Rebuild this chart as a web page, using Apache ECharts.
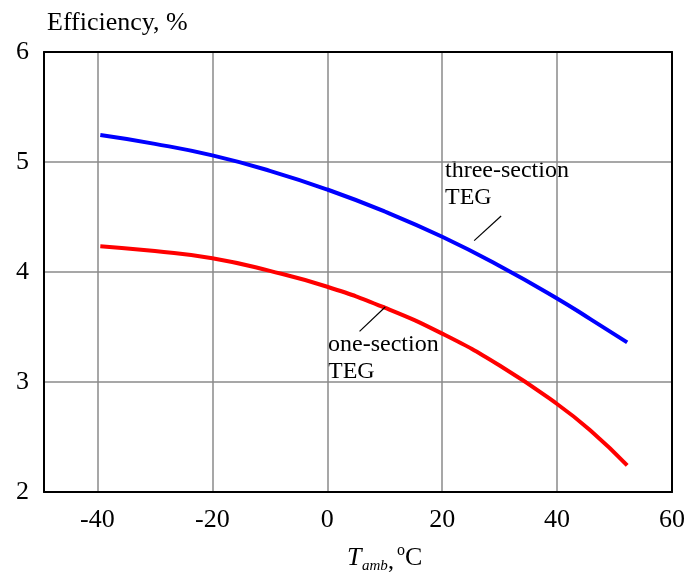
<!DOCTYPE html>
<html>
<head>
<meta charset="utf-8">
<script src="https://cdn.jsdelivr.net/npm/echarts@6/dist/echarts.min.js"></script>
<style>
  html, body { margin: 0; padding: 0; background: #fff; }
  #chart { width: 689px; height: 577px; }
</style>
</head>
<body>
<div id="chart"></div>
<script>
// Ambient temperature, °C
const temps = [-39.5, -30, -20, -10, 0, 10, 20, 30, 40, 46, 52.2];
// Efficiency, %
const threeSection = [5.245, 5.165, 5.06, 4.92, 4.75, 4.55, 4.32, 4.055, 3.76, 3.565, 3.36];
const oneSection = [4.235, 4.19, 4.125, 4.01, 3.866, 3.676, 3.44, 3.15, 2.80, 2.55, 2.243];
// Tick labels
const xTicks = [-40, -20, 0, 20, 40, 60];
const yTicks = [2, 3, 4, 5, 6];
// Leader lines from the curve labels to the curves (data units)
const threeLeader = [[30.26, 4.509], [25.57, 4.285]];
const oneLeader = [[10.09, 3.682], [5.62, 3.46]];

const FONT = '"Liberation Serif", "Times New Roman", serif';

const pair = (xs, ys) => xs.map((x, i) => [x, ys[i]]);

const chart = echarts.init(document.getElementById('chart'), null, { renderer: 'canvas' });

const leaderLine = (pts) => ({
  silent: true,
  symbol: ['none', 'none'],
  label: { show: false },
  lineStyle: { color: '#000', width: 1.2, type: 'solid' },
  data: [[{ coord: pts[0] }, { coord: pts[1] }]]
});

const frameAxis = {
  type: 'value',
  axisLine: { show: true, onZero: false, lineStyle: { color: '#000', width: 2 } },
  axisTick: { show: false },
  axisLabel: { show: false },
  splitLine: { show: false }
};

chart.setOption({
  backgroundColor: '#fff',
  animation: false,
  grid: { left: 44, right: 17, top: 52, bottom: 85 },
  xAxis: [{
    type: 'value',
    min: -49.3,
    max: 60,
    axisLine: { show: true, onZero: false, lineStyle: { color: '#000', width: 2 } },
    axisTick: { show: false, customValues: xTicks },
    axisLabel: {
      customValues: xTicks,
      color: '#000', fontFamily: FONT, fontSize: 26, margin: 15
    },
    splitLine: { show: true, lineStyle: { color: '#8a8a8a', width: 1.5 } }
  }, Object.assign({}, frameAxis, { position: 'top', min: -49.3, max: 60 })],
  yAxis: [{
    type: 'value',
    min: yTicks[0],
    max: yTicks[yTicks.length - 1],
    interval: 1,
    axisLine: { show: true, onZero: false, lineStyle: { color: '#000', width: 2 } },
    axisTick: { show: false },
    axisLabel: { color: '#000', fontFamily: FONT, fontSize: 26, margin: 15 },
    splitLine: { show: true, lineStyle: { color: '#8a8a8a', width: 1.5 } }
  }, Object.assign({}, frameAxis, { position: 'right', min: 2, max: 6 })],
  series: [{
    name: 'three-section TEG',
    type: 'line',
    data: pair(temps, threeSection),
    smooth: 0.5,
    showSymbol: false,
    lineStyle: { color: '#0000ff', width: 4, cap: 'butt' },
    markLine: leaderLine(threeLeader),
    z: 3
  }, {
    name: 'one-section TEG',
    type: 'line',
    data: pair(temps, oneSection),
    smooth: 0.5,
    showSymbol: false,
    lineStyle: { color: '#ff0000', width: 4, cap: 'butt' },
    markLine: leaderLine(oneLeader),
    z: 3
  }],
  graphic: [
    { type: 'text', x: 47, y: 10,
      style: { text: 'Efficiency, %', font: '26px ' + FONT, fill: '#000', textVerticalAlign: 'top' } },
    { type: 'text', x: 445, y: 157,
      style: { text: 'three-section\nTEG', font: '24px ' + FONT, fill: '#000', lineHeight: 27, textVerticalAlign: 'top' } },
    { type: 'text', x: 328, y: 331,
      style: { text: 'one-section\nTEG', font: '24px ' + FONT, fill: '#000', lineHeight: 27, textVerticalAlign: 'top' } },
    // axis title: T_amb, °C
    { type: 'text', x: 347, y: 558,
      style: { text: 'T', font: 'italic 26px ' + FONT, fill: '#000', textVerticalAlign: 'middle' } },
    { type: 'text', x: 362, y: 566,
      style: { text: 'amb', font: 'italic 15px ' + FONT, fill: '#000', textVerticalAlign: 'middle' } },
    { type: 'text', x: 388, y: 562,
      style: { text: ',', font: '24px ' + FONT, fill: '#000', textVerticalAlign: 'middle' } },
    { type: 'text', x: 397, y: 551,
      style: { text: 'o', font: '16px ' + FONT, fill: '#000', textVerticalAlign: 'middle' } },
    { type: 'text', x: 405, y: 558,
      style: { text: 'C', font: '26px ' + FONT, fill: '#000', textVerticalAlign: 'middle' } }
  ]
});
</script>
</body>
</html>
